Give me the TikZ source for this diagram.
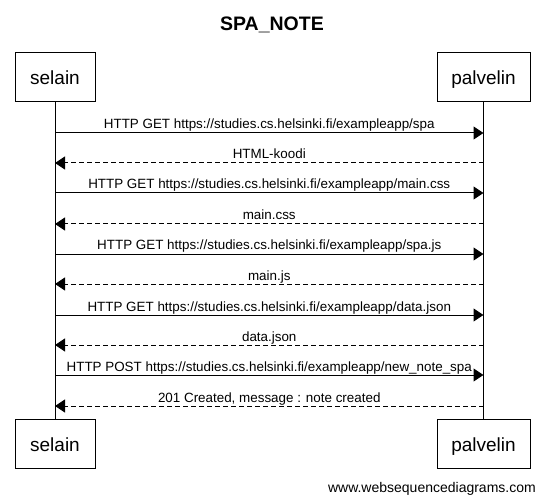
\documentclass[tikz,border=0pt]{standalone}
\usepackage{fontspec}
\setmainfont{Liberation Sans}
\usetikzlibrary{arrows.meta}
\begin{document}
\begin{tikzpicture}[x=1pt,y=-1pt,
  actor/.style={draw=black,line width=1pt,minimum height=49pt,inner sep=0pt,
    font=\fontsize{19}{19}\selectfont,text height=15pt,text depth=0pt},
  msglabel/.style={anchor=base,inner sep=0pt,yshift=4pt,font=\fontsize{13.4}{13.4}\selectfont},
  req/.style={line width=1pt,-{Triangle[length=10pt,width=13pt]}},
  resp/.style={line width=1pt,dash pattern=on 5pt off 3pt,-{Triangle[length=10pt,width=13pt]}},
  lifeline/.style={line width=1pt}]
\useasboundingbox (0,0) rectangle (545,502);
\node[font=\bfseries\fontsize{19.5}{19.5}\selectfont,anchor=base] (title) at (272,31) {SPA\_NOTE};
\node[actor,minimum width=80pt] (sTop) at (55,77.5) {selain};
\node[actor,minimum width=93pt] (pTop) at (483.5,77.5) {palvelin};
\node[actor,minimum width=80pt] (sBot) at (55,443.5) {selain};
\node[actor,minimum width=93pt] (pBot) at (483.5,443.5) {palvelin};
\draw[lifeline] (sTop.south) -- (sBot.north);
\draw[lifeline] (pTop.south) -- (pBot.north);
\foreach \i/\y in {1/133,2/163,3/193,4/224,5/254,6/284,7/315,8/345,9/375,10/406}{
  \coordinate (sa\i) at (55,\y);
  \coordinate (pa\i) at (483.5,\y);
}
\draw[req] (sa1) -- node[msglabel] (m1) {HTTP GET https://studies.cs.helsinki.fi/exampleapp/spa} (pa1);
\draw[resp] (pa2) -- node[msglabel] (m2) {HTML-koodi} (sa2);
\draw[req] (sa3) -- node[msglabel] (m3) {HTTP GET https://studies.cs.helsinki.fi/exampleapp/main.css} (pa3);
\draw[resp] (pa4) -- node[msglabel] (m4) {main.css} (sa4);
\draw[req] (sa5) -- node[msglabel] (m5) {HTTP GET https://studies.cs.helsinki.fi/exampleapp/spa.js} (pa5);
\draw[resp] (pa6) -- node[msglabel] (m6) {main.js} (sa6);
\draw[req] (sa7) -- node[msglabel] (m7) {HTTP GET https://studies.cs.helsinki.fi/exampleapp/data.json} (pa7);
\draw[resp] (pa8) -- node[msglabel] (m8) {data.json} (sa8);
\draw[req] (sa9) -- node[msglabel] (m9) {HTTP POST https://studies.cs.helsinki.fi/exampleapp/new\_note\_spa} (pa9);
\draw[resp] (pa10) -- node[msglabel] (m10) {201 Created, message : note created} (sa10);
\node[anchor=base east,inner sep=0pt,font=\fontsize{14}{14}\selectfont] (footer) at (536,492) {www.websequencediagrams.com};
\end{tikzpicture}
\end{document}
